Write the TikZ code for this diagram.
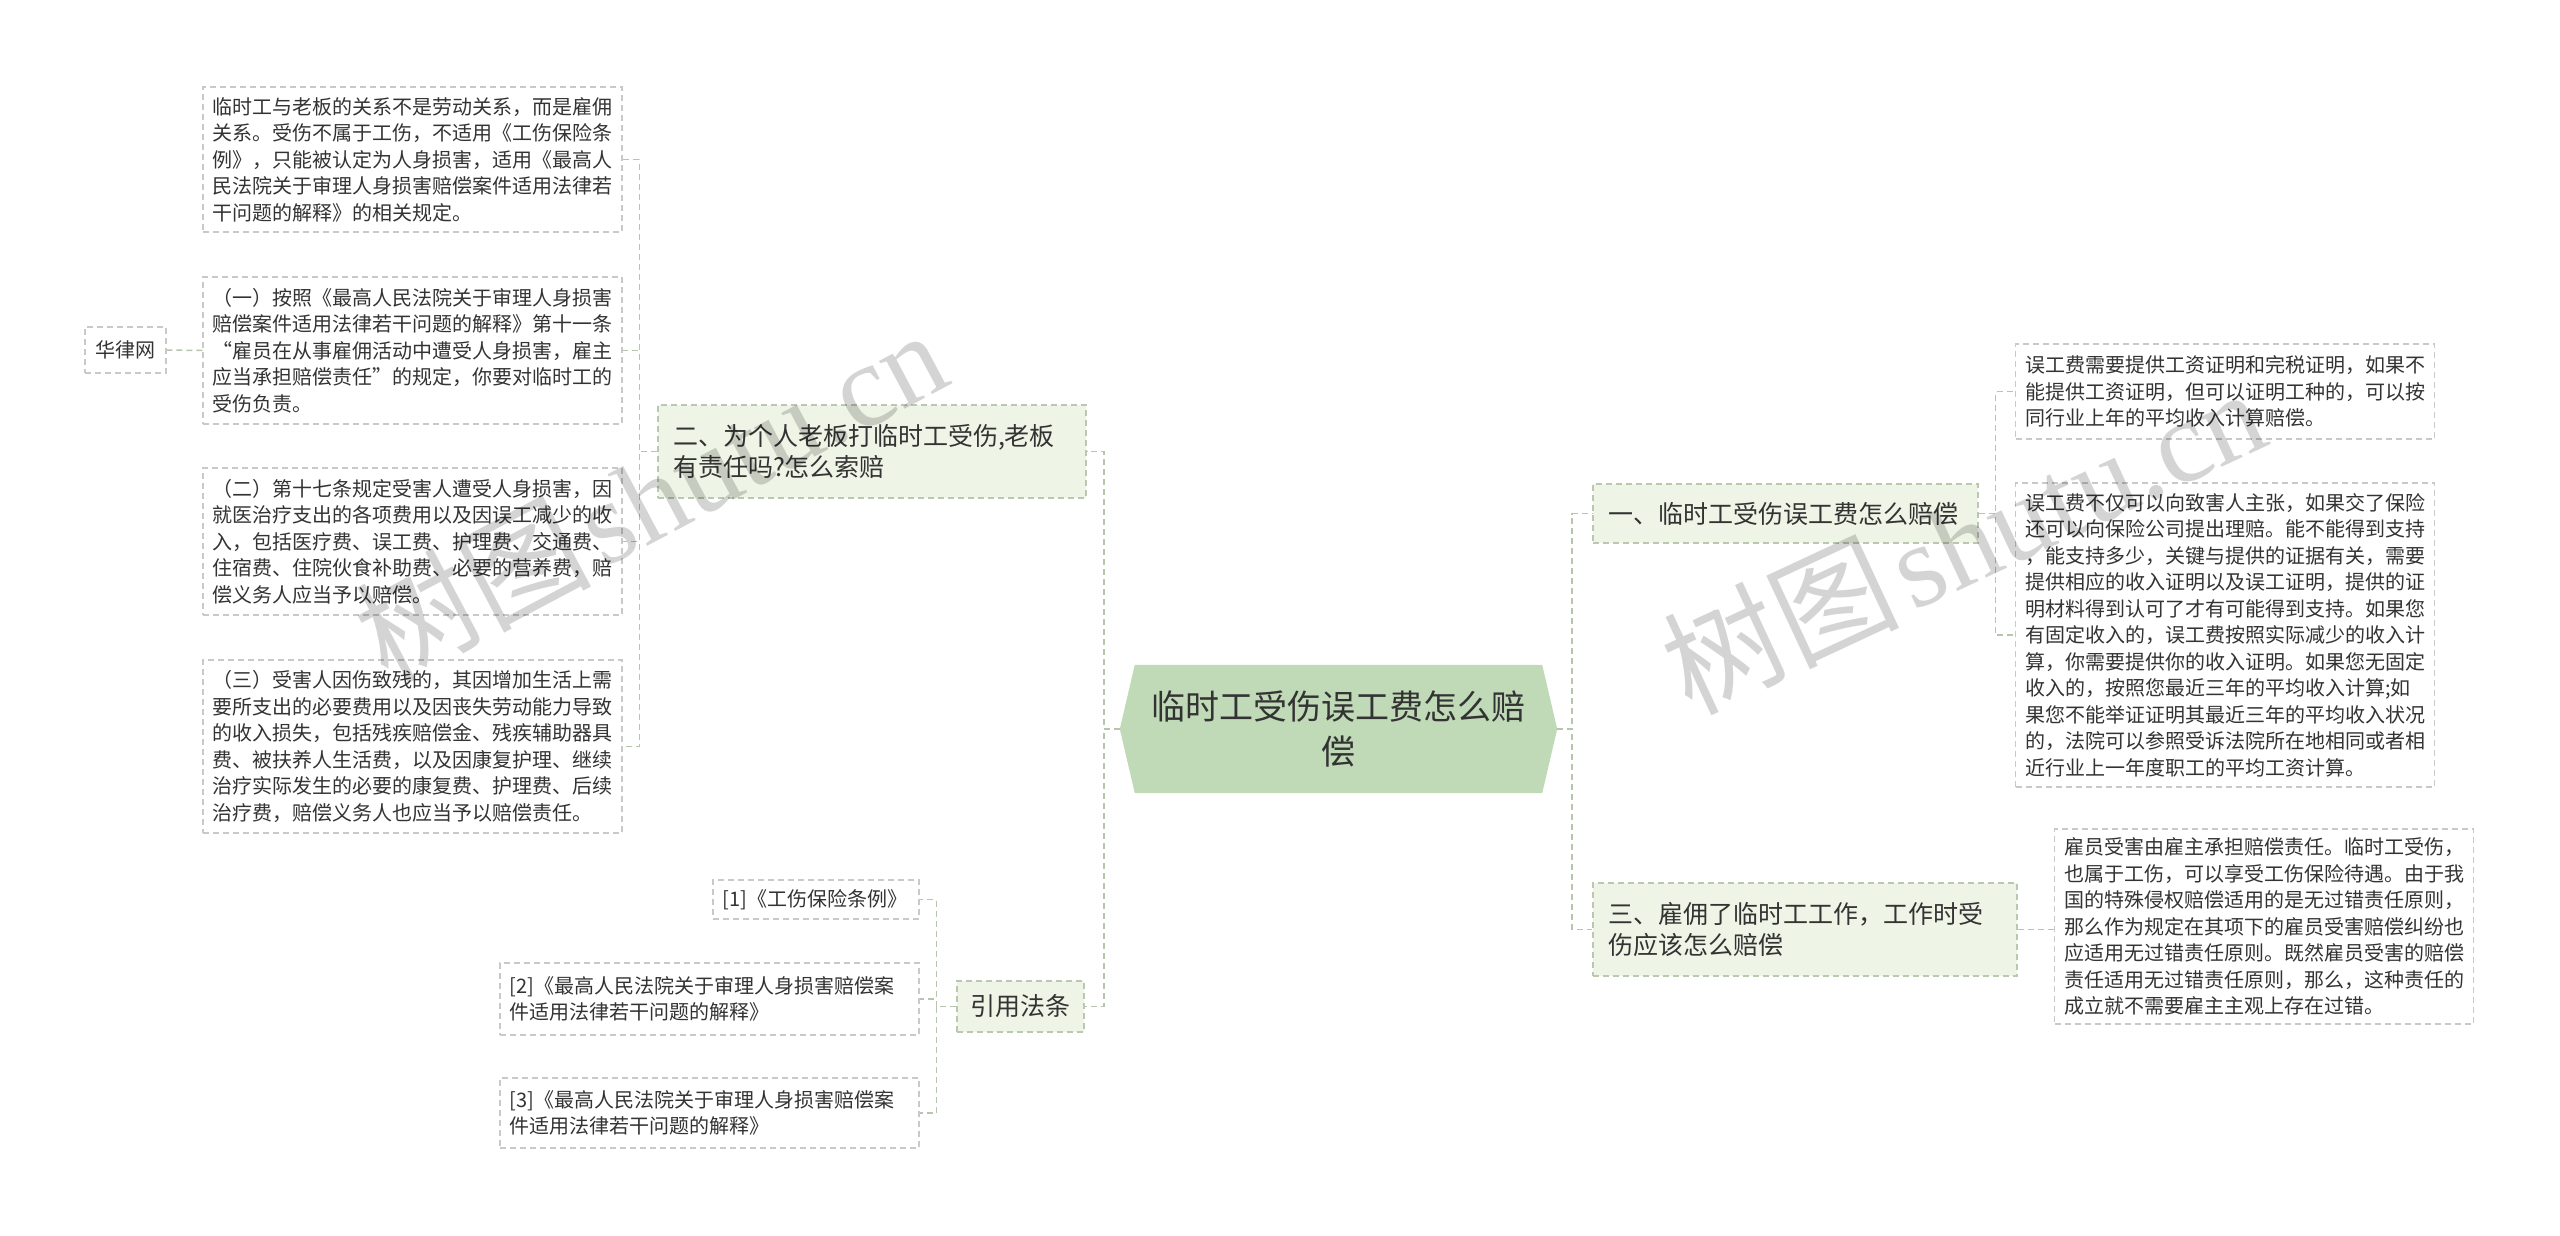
\documentclass[tikz,border=0pt]{standalone}
\usepackage{fontspec}
\setmainfont{Noto Sans CJK SC}
\newfontfamily\wmfont{Liberation Serif}
\usetikzlibrary{calc,backgrounds}
\definecolor{txt}{HTML}{333333}
\definecolor{cfill}{HTML}{C0D9B7}
\definecolor{lfill}{HTML}{EEF5E6}
\definecolor{lborder}{HTML}{B9C8AE}
\definecolor{leafborder}{HTML}{C9C9C9}
\definecolor{conncol}{HTML}{B7C5AD}
\begin{document}
\begin{tikzpicture}[x=1pt,y=-1pt,
  leafbox/.style={draw=leafborder, dash pattern=on 6pt off 4pt, fill=white, line width=1.3pt,
    text=txt, font={\fontsize{20}{26.5}\selectfont}, align=left, inner xsep=9.5pt,
    inner ysep=0pt, text width=400pt, anchor=center},
  lvlbox/.style={draw=lborder, dash pattern=on 6pt off 4pt, fill=lfill, line width=1.3pt,
    text=txt, font={\fontsize{25}{31}\selectfont}, align=left, inner xsep=15pt,
    inner ysep=0pt, anchor=center},
  conn/.style={draw=conncol, line width=1.5pt, dash pattern=on 6pt off 4pt},
  wm/.style={text=black, opacity=0.17, font={\fontsize{118}{128}\selectfont}, inner sep=0pt}
]
\useasboundingbox (0,0) rectangle (2560,1236);

% central node
\node[minimum width=437pt, minimum height=128pt, inner sep=0pt, align=center, text=txt,
  font={\fontsize{34}{45}\selectfont}] (c) at (1338.5,729) {临时工受伤误工费怎么赔\\偿};
\begin{scope}[on background layer]
  \fill[cfill] ($(c.north west)+(15,0)$) -- ($(c.north east)+(-15,0)$) -- (c.east)
    -- ($(c.south east)+(-15,0)$) -- ($(c.south west)+(15,0)$) -- (c.west) -- cycle;
\end{scope}

% level 1
\node[lvlbox, minimum width=428pt, minimum height=93pt, text width=398pt] (er) at (872,451.5)
  {二、为个人老板打临时工受伤,老板\\有责任吗?怎么索赔};
\node[lvlbox, minimum width=127pt, minimum height=51pt, inner xsep=0pt, align=center] (yy) at (1020.5,1006.5) {引用法条};
\node[lvlbox, minimum width=385pt, minimum height=59pt, text width=355pt] (yi) at (1785.5,513.5)
  {一、临时工受伤误工费怎么赔偿};
\node[lvlbox, minimum width=424pt, minimum height=93pt, text width=394pt] (san) at (1805,929.5)
  {三、雇佣了临时工工作，工作时受\\伤应该怎么赔偿};

% left leaves
\node[leafbox, minimum height=145pt] (l1) at (412.5,159.5)
  {临时工与老板的关系不是劳动关系，而是雇佣\\关系。受伤不属于工伤，不适用《工伤保险条\\例》，只能被认定为人身损害，适用《最高人\\民法院关于审理人身损害赔偿案件适用法律若\\干问题的解释》的相关规定。};
\node[leafbox, minimum height=147pt] (l2) at (412.5,350.5)
  {（一）按照《最高人民法院关于审理人身损害\\赔偿案件适用法律若干问题的解释》第十一条\\“雇员在从事雇佣活动中遭受人身损害，雇主\\应当承担赔偿责任”的规定，你要对临时工的\\受伤负责。};
\node[leafbox, minimum height=147pt] (l3) at (412.5,541.5)
  {（二）第十七条规定受害人遭受人身损害，因\\就医治疗支出的各项费用以及因误工减少的收\\入，包括医疗费、误工费、护理费、交通费、\\住宿费、住院伙食补助费、必要的营养费，赔\\偿义务人应当予以赔偿。};
\node[leafbox, minimum height=173pt] (l4) at (412.5,746.5)
  {（三）受害人因伤致残的，其因增加生活上需\\要所支出的必要费用以及因丧失劳动能力导致\\的收入损失，包括残疾赔偿金、残疾辅助器具\\费、被扶养人生活费，以及因康复护理、继续\\治疗实际发生的必要的康复费、护理费、后续\\治疗费，赔偿义务人也应当予以赔偿责任。};
\node[leafbox, text width=, minimum width=81pt, minimum height=46pt, inner xsep=0pt, align=center] (hl) at (125.5,350) {华律网};

% references
\node[leafbox, text width=187pt, minimum height=39pt] (f1) at (816,899.5) {[1]《工伤保险条例》};
\node[leafbox, minimum height=72pt] (f2) at (709.5,999) {[2]《最高人民法院关于审理人身损害赔偿案\\件适用法律若干问题的解释》};
\node[leafbox, minimum height=70pt] (f3) at (709.5,1113) {[3]《最高人民法院关于审理人身损害赔偿案\\件适用法律若干问题的解释》};

% right leaves
\node[leafbox, minimum height=95pt] (ra) at (2225,391.5)
  {误工费需要提供工资证明和完税证明，如果不\\能提供工资证明，但可以证明工种的，可以按\\同行业上年的平均收入计算赔偿。};
\node[leafbox, minimum height=304pt] (rb) at (2225,635)
  {误工费不仅可以向致害人主张，如果交了保险\\还可以向保险公司提出理赔。能不能得到支持\\，能支持多少，关键与提供的证据有关，需要\\提供相应的收入证明以及误工证明，提供的证\\明材料得到认可了才有可能得到支持。如果您\\有固定收入的，误工费按照实际减少的收入计\\算，你需要提供你的收入证明。如果您无固定\\收入的，按照您最近三年的平均收入计算;如\\果您不能举证证明其最近三年的平均收入状况\\的，法院可以参照受诉法院所在地相同或者相\\近行业上一年度职工的平均工资计算。};
\node[leafbox, minimum height=195pt] (rc) at (2264,926.5)
  {雇员受害由雇主承担赔偿责任。临时工受伤，\\也属于工伤，可以享受工伤保险待遇。由于我\\国的特殊侵权赔偿适用的是无过错责任原则，\\那么作为规定在其项下的雇员受害赔偿纠纷也\\应适用无过错责任原则。既然雇员受害的赔偿\\责任适用无过错责任原则，那么，这种责任的\\成立就不需要雇主主观上存在过错。};

% connectors
\draw[conn] (c.west) -- ++(-16,0) |- (er.east);
\draw[conn] (c.west) -- ++(-16,0) |- (yy.east);
\draw[conn] (c.east) -- ++(15,0) |- (yi.west);
\draw[conn] (c.east) -- ++(15,0) |- (san.west);
\draw[conn] (er.west) -- ++(-18,0) |- (l1.east);
\draw[conn] (er.west) -- ++(-18,0) |- (l2.east);
\draw[conn] (er.west) -- ++(-18,0) |- (l3.east);
\draw[conn] (er.west) -- ++(-18,0) |- (l4.east);
\draw[conn] (l2.west) -- (hl.east);
\draw[conn] (yy.west) -- ++(-20,0) |- (f1.east);
\draw[conn] (yy.west) -- ++(-20,0) |- (f2.east);
\draw[conn] (yy.west) -- ++(-20,0) |- (f3.east);
\draw[conn] (yi.east) -- ++(17,0) |- (ra.west);
\draw[conn] (yi.east) -- ++(17,0) |- (rb.west);
\draw[conn] (san.east) -- (san.east -| rc.west);

% watermarks
\node[wm, rotate=28] (wm1) at (650,494) {树图\hspace{10pt}{\wmfont shutu.cn}};
\node[wm, rotate=25] (wm2) at (1963,539) {树图\hspace{10pt}{\wmfont shutu.cn}};
\end{tikzpicture}
\end{document}
